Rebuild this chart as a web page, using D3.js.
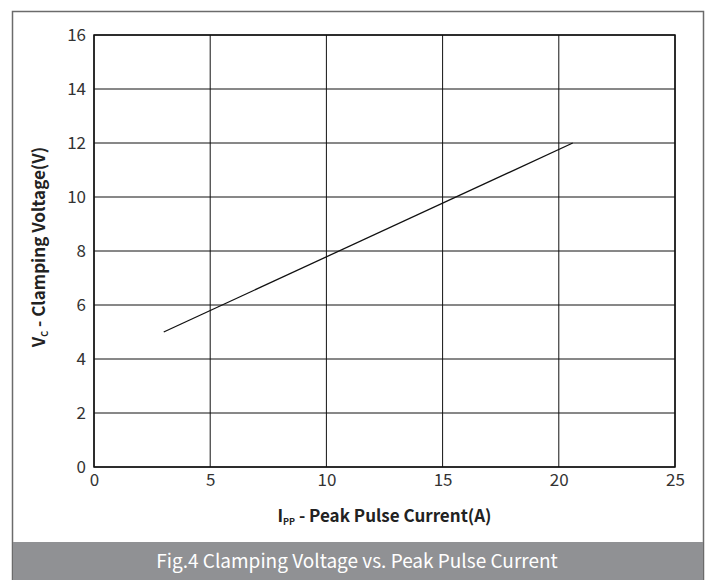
<!DOCTYPE html>
<html><head><meta charset="utf-8">
<script src="https://cdn.jsdelivr.net/npm/d3@7"></script>
<style>body{margin:0;background:#fff}svg{display:block}</style>
</head><body>
<svg id="c" width="712" height="580"></svg>
<script>
const xTicks = [0, 5, 10, 15, 20, 25];
const yTicks = [0, 2, 4, 6, 8, 10, 12, 14, 16];
const currentA = [3, 20.6];
const clampV = [5, 12];
const caption = "Fig.4 Clamping Voltage vs. Peak Pulse Current";

const svg = d3.select("#c");
const font = "'Noto Sans CJK SC','Noto Sans',sans-serif";
const m = {l: 94, t: 35, r: 675, b: 467};
const x = d3.scaleLinear().domain([0, 25]).range([m.l, m.r]);
const y = d3.scaleLinear().domain([0, 16]).range([m.b, m.t]);

// outer frame
svg.append("rect").attr("x", 12.5).attr("y", 11.5).attr("width", 691).attr("height", 580)
  .attr("fill", "#fff").attr("stroke", "#6b6b6b").attr("stroke-width", 1.5);
// caption bar
svg.append("rect").attr("x", 13).attr("y", 542).attr("width", 690).attr("height", 38).attr("fill", "#909194");
svg.append("text").attr("x", 357).attr("y", 568).attr("text-anchor", "middle")
  .attr("font-family", font).attr("font-size", 19).attr("fill", "#fff").text(caption);

// grid
const g = svg.append("g");
g.selectAll(".vg").data(xTicks).join("line")
  .attr("x1", d => x(d)).attr("x2", d => x(d)).attr("y1", m.t).attr("y2", m.b)
  .attr("stroke", "#111").attr("stroke-width", 1);
g.selectAll(".hg").data(yTicks).join("line")
  .attr("x1", m.l).attr("x2", m.r).attr("y1", d => y(d)).attr("y2", d => y(d))
  .attr("stroke", "#111").attr("stroke-width", 1);
g.append("rect").attr("x", m.l).attr("y", m.t).attr("width", m.r - m.l).attr("height", m.b - m.t)
  .attr("fill", "none").attr("stroke", "#111").attr("stroke-width", 1.5);

// axes labels
const xa = svg.append("g").attr("transform", `translate(0,${m.b})`)
  .call(d3.axisBottom(x).tickValues(xTicks).tickSize(0).tickPadding(7));
const ya = svg.append("g").attr("transform", `translate(${m.l},0)`)
  .call(d3.axisLeft(y).tickValues(yTicks).tickSize(0).tickPadding(8));
[xa, ya].forEach(a => {
  a.select(".domain").remove();
  a.attr("font-size", null).attr("font-family", null);
  a.selectAll("text").attr("font-family", font).attr("font-size", 17).attr("fill", "#333");
});
ya.selectAll("text").attr("dy", "0.32em");

// line
const pts = currentA.map((c, i) => [c, clampV[i]]);
svg.append("path").datum(pts)
  .attr("d", d3.line().x(d => x(d[0])).y(d => y(d[1])))
  .attr("fill", "none").attr("stroke", "#111").attr("stroke-width", 1.3);

// x title
const xt = svg.append("text").attr("x", (m.l + m.r) / 2).attr("y", 522).attr("text-anchor", "middle")
  .attr("font-family", font).attr("font-size", 17).attr("font-weight", "bold").attr("fill", "#222");
xt.append("tspan").text("I");
xt.append("tspan").attr("font-size", 9).attr("dy", 3).text("PP");
xt.append("tspan").attr("dy", -3).text(" - Peak Pulse Current(A)");

// y title
const yt = svg.append("text").attr("transform", `translate(45,247) rotate(-90)`)
  .attr("text-anchor", "middle")
  .attr("font-family", font).attr("font-size", 17).attr("font-weight", "bold").attr("fill", "#222");
yt.append("tspan").text("V");
yt.append("tspan").attr("font-size", 9).attr("dy", 3).text("C");
yt.append("tspan").attr("dy", -3).text(" - Clamping Voltage(V)");
</script>
</body></html>
